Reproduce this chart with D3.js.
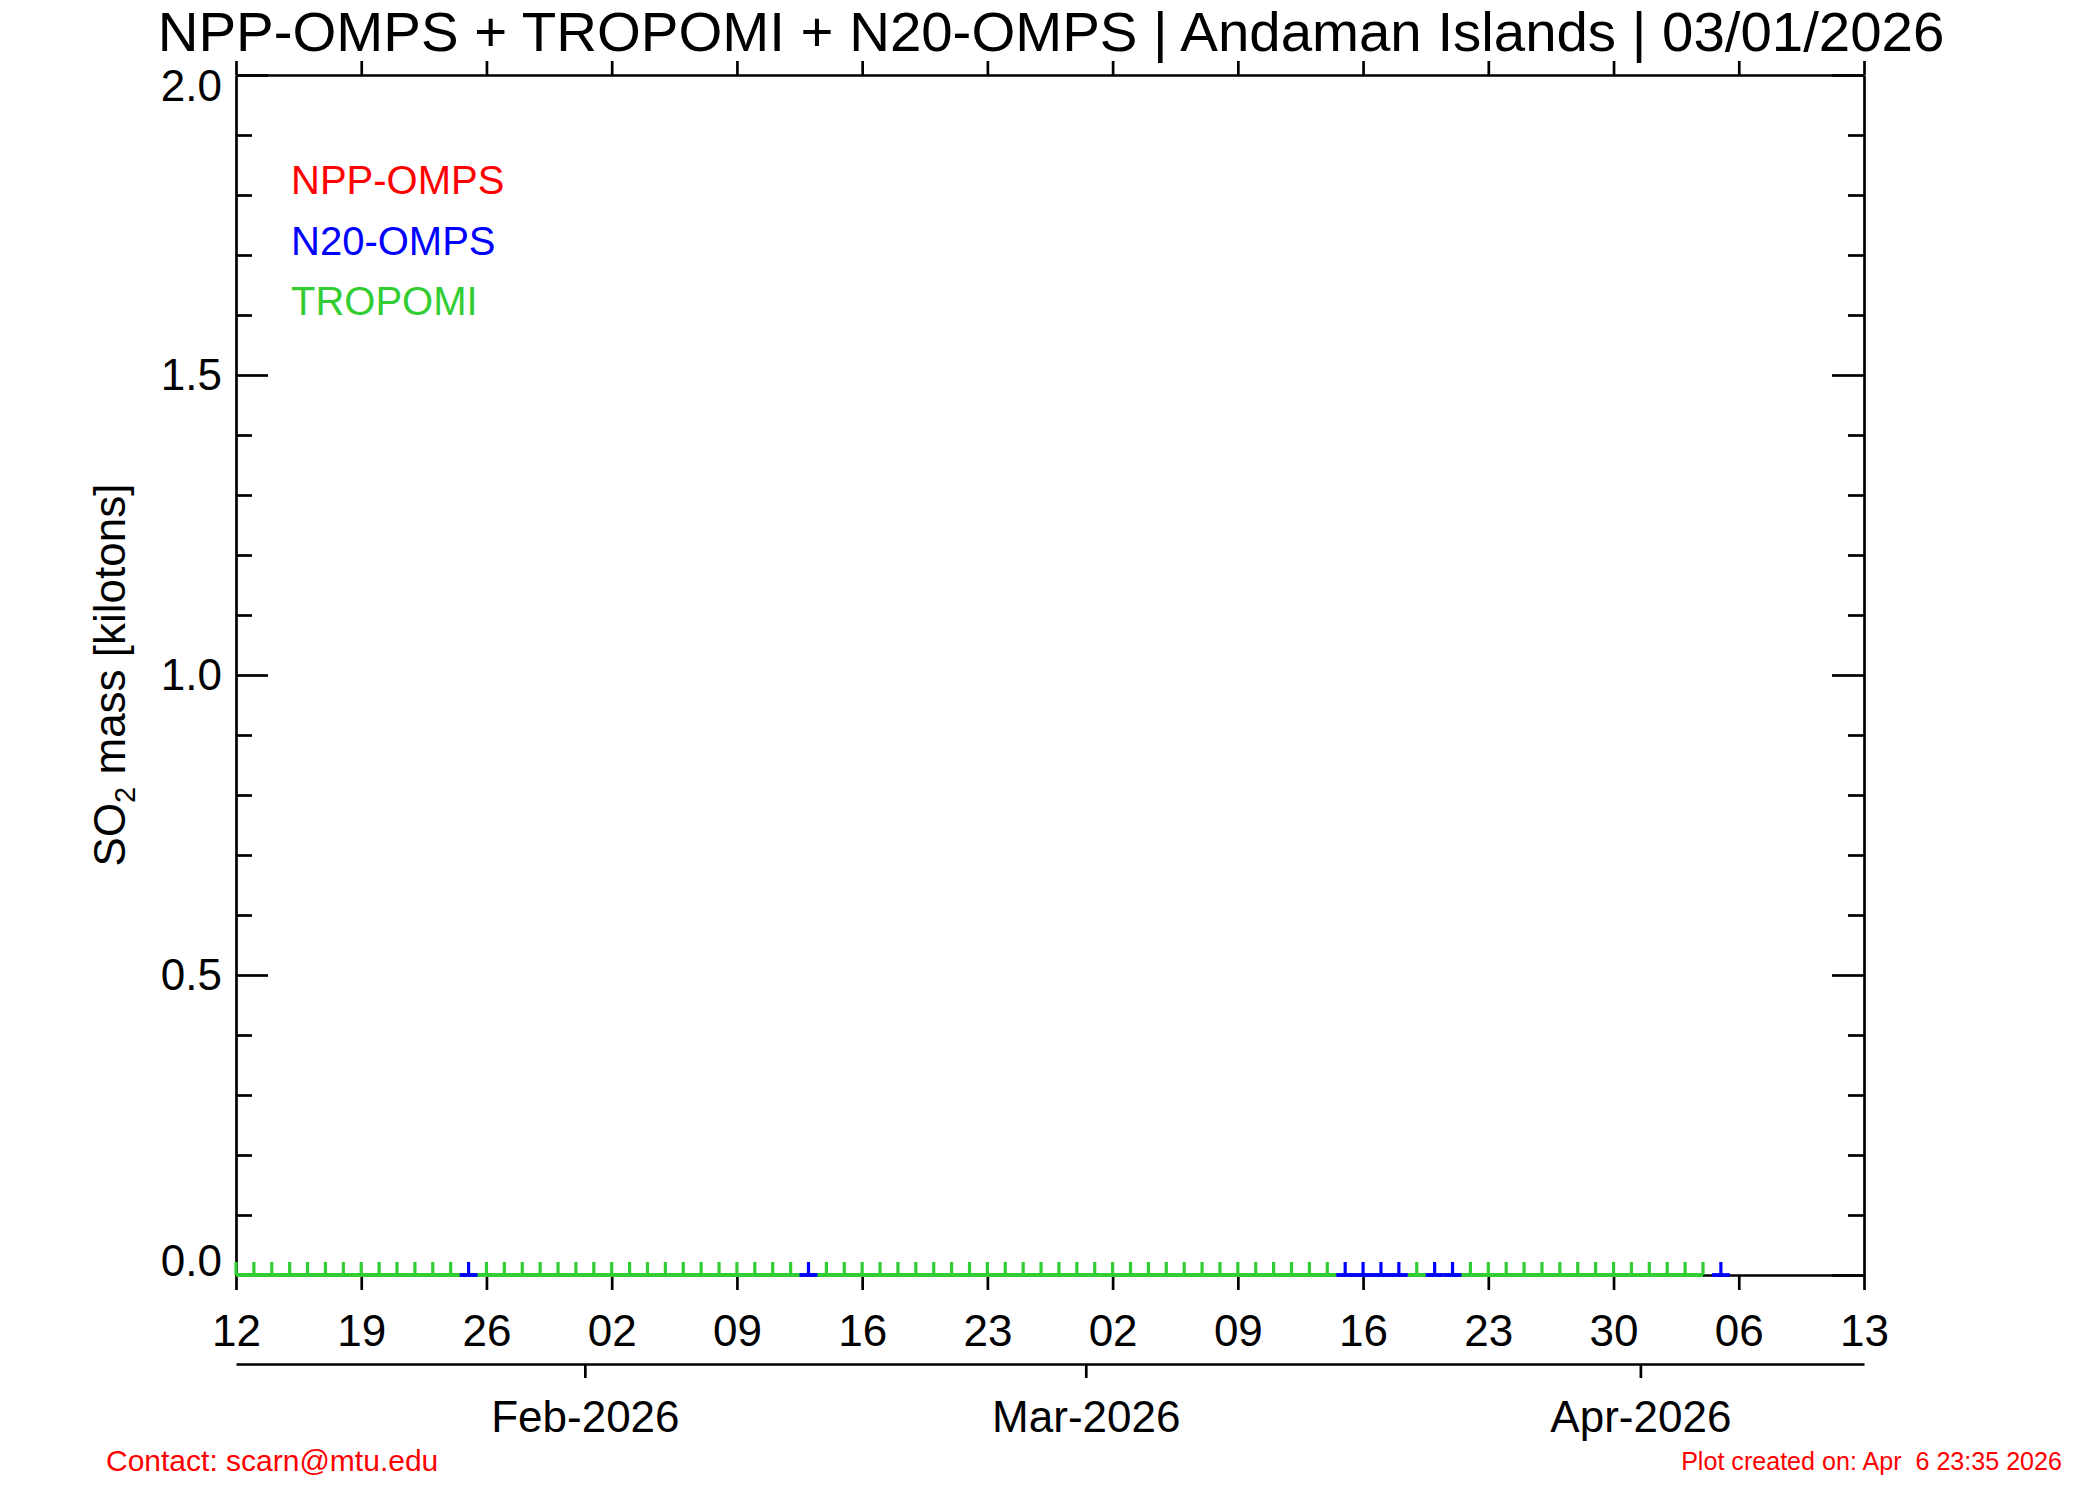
<!DOCTYPE html>
<html>
<head>
<meta charset="utf-8">
<script src="https://cdn.jsdelivr.net/npm/d3@7"></script>
<style>
  body { margin: 0; background: #fff; }
  text { font-family: "Liberation Sans", Arial, Helvetica, sans-serif; }
</style>
</head>
<body>
<svg id="chart" width="2100" height="1500"></svg>
<script>
// SO2 mass time series for the Andaman Islands, one mark per overpass day
var chartTitle = "NPP-OMPS + TROPOMI + N20-OMPS | Andaman Islands | 03/01/2026";
var seriesNames = ["NPP-OMPS", "N20-OMPS", "TROPOMI"];
var seriesColors = ["#ff0000", "#0000ff", "#32cd32"];

// NPP-OMPS has no visible retrievals in this window
var nppDates = [];
var nppMass = [];

var n20Dates = ["2026-01-25", "2026-02-13", "2026-03-15", "2026-03-16", "2026-03-17",
  "2026-03-18", "2026-03-20", "2026-03-21", "2026-04-05"];
var n20Mass = [0, 0, 0, 0, 0, 0, 0, 0, 0];

var tropomiDates = [
  "2026-01-12", "2026-01-13", "2026-01-14", "2026-01-15", "2026-01-16", "2026-01-17",
  "2026-01-18", "2026-01-19", "2026-01-20", "2026-01-21", "2026-01-22", "2026-01-23",
  "2026-01-24", "2026-01-26", "2026-01-27", "2026-01-28", "2026-01-29", "2026-01-30",
  "2026-01-31", "2026-02-01", "2026-02-02", "2026-02-03", "2026-02-04", "2026-02-05",
  "2026-02-06", "2026-02-07", "2026-02-08", "2026-02-09", "2026-02-10", "2026-02-11",
  "2026-02-12", "2026-02-14", "2026-02-15", "2026-02-16", "2026-02-17", "2026-02-18",
  "2026-02-19", "2026-02-20", "2026-02-21", "2026-02-22", "2026-02-23", "2026-02-24",
  "2026-02-25", "2026-02-26", "2026-02-27", "2026-02-28", "2026-03-01", "2026-03-02",
  "2026-03-03", "2026-03-04", "2026-03-05", "2026-03-06", "2026-03-07", "2026-03-08",
  "2026-03-09", "2026-03-10", "2026-03-11", "2026-03-12", "2026-03-13", "2026-03-14",
  "2026-03-19", "2026-03-22", "2026-03-23", "2026-03-24", "2026-03-25", "2026-03-26",
  "2026-03-27", "2026-03-28", "2026-03-29", "2026-03-30", "2026-03-31", "2026-04-01",
  "2026-04-02", "2026-04-03", "2026-04-04"];
var tropomiMass = [
  0, 0, 0, 0, 0, 0, 0, 0, 0, 0, 0, 0, 0, 0, 0, 0, 0, 0, 0, 0, 0, 0, 0, 0, 0,
  0, 0, 0, 0, 0, 0, 0, 0, 0, 0, 0, 0, 0, 0, 0, 0, 0, 0, 0, 0, 0, 0, 0, 0, 0,
  0, 0, 0, 0, 0, 0, 0, 0, 0, 0, 0, 0, 0, 0, 0, 0, 0, 0, 0, 0, 0, 0, 0, 0, 0];

var xDomain = ["2026-01-12T00", "2026-04-13T00"];
var weekTicks = ["2026-01-12T00", "2026-01-19T00", "2026-01-26T00", "2026-02-02T00", "2026-02-09T00",
  "2026-02-16T00", "2026-02-23T00", "2026-03-02T00", "2026-03-09T00", "2026-03-16T00", "2026-03-23T00",
  "2026-03-30T00", "2026-04-06T00", "2026-04-13T00"];
var weekLabels = ["12", "19", "26", "02", "09", "16", "23", "02", "09", "16", "23", "30", "06", "13"];
// month ticks sit at the julian-day boundary (noon of the previous day)
var monthTicks = ["2026-01-31T12", "2026-02-28T12", "2026-03-31T12"];
var monthLabels = ["Feb-2026", "Mar-2026", "Apr-2026"];

var yDomain = [0, 2];
var yMajorTicks = [0, 0.5, 1.0, 1.5, 2.0];
var yMinorTicks = [0.1, 0.2, 0.3, 0.4, 0.6, 0.7, 0.8, 0.9, 1.1, 1.2, 1.3, 1.4, 1.6, 1.7, 1.8, 1.9];

var contactText = "Contact: scarn@mtu.edu";
var createdText = "Plot created on: Apr  6 23:35 2026";

(function() {
  var parseDate = d3.utcParse("%Y-%m-%d");
  var parseHour = d3.utcParse("%Y-%m-%dT%H");
  var margin = {top: 75, right: 236, bottom: 225, left: 236},
      width = 2100 - margin.left - margin.right,
      height = 1500 - margin.top - margin.bottom;
  var axisWidth = 2.7,
      font = '"Liberation Sans", Arial, Helvetica, sans-serif';

  var svg = d3.select("#chart");
  svg.append("rect").attr("width", 2100).attr("height", 1500).attr("fill", "#fff");

  var g = svg.append("g")
      .attr("transform", "translate(" + margin.left + "," + margin.top + ")");

  var xScale = d3.scaleUtc().domain(xDomain.map(parseHour)).range([0, width]);
  var yScale = d3.scaleLinear().domain(yDomain).range([height, 0]);

  function styleAxis(sel, size) {
    sel.selectAll("path.domain").style("stroke", "#000").style("stroke-width", axisWidth);
    sel.selectAll(".tick line").style("stroke", "#000").style("stroke-width", axisWidth);
    sel.selectAll("text").style("font-family", font).style("font-size", size + "px").attr("fill", "#000");
  }

  // bottom axis (weekly, labelled with day of month)
  var weekDates = weekTicks.map(parseHour);
  var bottomAxis = g.append("g")
      .attr("transform", "translate(0," + height + ")")
      .call(d3.axisBottom(xScale).tickValues(weekDates)
        .tickFormat(function(d, i) { return weekLabels[i]; })
        .tickSizeInner(15).tickSizeOuter(0).tickPadding(25));
  styleAxis(bottomAxis, 44);

  // top axis
  var topAxis = g.append("g")
      .call(d3.axisTop(xScale).tickValues(weekDates).tickFormat(function() { return ""; })
        .tickSizeInner(14).tickSizeOuter(0));
  styleAxis(topAxis, 44);

  // left axis, ticks pointing inwards
  var leftAxis = g.append("g")
      .call(d3.axisLeft(yScale).tickValues(yMajorTicks).tickFormat(d3.format(".1f"))
        .tickSizeInner(-32).tickSizeOuter(0).tickPadding(14));
  styleAxis(leftAxis, 44);
  leftAxis.selectAll(".tick text").attr("dy", function(d) {
    if (d === yDomain[1]) return "0.57em";
    if (d === yDomain[0]) return "0.0em";
    return "0.32em";
  });
  var leftMinor = g.append("g")
      .call(d3.axisLeft(yScale).tickValues(yMinorTicks).tickFormat(function() { return ""; })
        .tickSizeInner(-16).tickSizeOuter(0));
  styleAxis(leftMinor, 44);
  leftMinor.select("path.domain").remove();

  // right axis
  var rightAxis = g.append("g")
      .attr("transform", "translate(" + width + ",0)")
      .call(d3.axisRight(yScale).tickValues(yMajorTicks).tickFormat(function() { return ""; })
        .tickSizeInner(-32).tickSizeOuter(0));
  styleAxis(rightAxis, 44);
  var rightMinor = g.append("g")
      .attr("transform", "translate(" + width + ",0)")
      .call(d3.axisRight(yScale).tickValues(yMinorTicks).tickFormat(function() { return ""; })
        .tickSizeInner(-16).tickSizeOuter(0));
  styleAxis(rightMinor, 44);
  rightMinor.select("path.domain").remove();

  // second date axis with month names
  var monthAxis = g.append("g")
      .attr("transform", "translate(0," + (height + 89) + ")")
      .call(d3.axisBottom(xScale).tickValues(monthTicks.map(parseHour))
        .tickFormat(function(d, i) { return monthLabels[i]; })
        .tickSizeInner(14).tickSizeOuter(0).tickPadding(23));
  styleAxis(monthAxis, 44);

  // data
  var series = [
    {name: seriesNames[0], color: seriesColors[0], dates: nppDates, mass: nppMass},
    {name: seriesNames[2], color: seriesColors[2], dates: tropomiDates, mass: tropomiMass},
    {name: seriesNames[1], color: seriesColors[1], dates: n20Dates, mass: n20Mass}
  ];
  var tickHeight = 13, dataWidth = 3.2;

  series.forEach(function(s) {
    var pts = s.dates.map(function(d, i) { return {date: parseDate(d), mass: +s.mass[i]}; });
    var layer = g.append("g").attr("class", "series");
    if (s.name === "TROPOMI") {
      var valueline = d3.line()
          .x(function(d) { return xScale(d.date); })
          .y(function(d) { return yScale(d.mass); });
      layer.append("path")
          .datum(pts)
          .attr("fill", "none")
          .attr("stroke", s.color)
          .attr("stroke-width", dataWidth + 0.6)
          .attr("d", valueline);
    } else {
      // single-day step centred on the observation
      layer.selectAll("line.step")
          .data(pts)
          .enter().append("line")
          .attr("class", "step")
          .attr("x1", function(d) { return xScale(d3.utcHour.offset(d.date, -12)); })
          .attr("x2", function(d) { return xScale(d3.utcHour.offset(d.date, 12)); })
          .attr("y1", function(d) { return yScale(d.mass); })
          .attr("y2", function(d) { return yScale(d.mass); })
          .attr("stroke", s.color)
          .attr("stroke-width", dataWidth + 0.6);
    }
    layer.selectAll("line.mark")
        .data(pts)
        .enter().append("line")
        .attr("class", "mark")
        .attr("x1", function(d) { return xScale(d.date); })
        .attr("x2", function(d) { return xScale(d.date); })
        .attr("y1", function(d) { return yScale(d.mass); })
        .attr("y2", function(d) { return yScale(d.mass) - tickHeight; })
        .attr("stroke", s.color)
        .attr("stroke-width", dataWidth);
  });

  // legend
  var legendOrder = [0, 1, 2];
  g.selectAll("text.legend")
      .data(legendOrder)
      .enter().append("text")
      .attr("class", "legend")
      .attr("x", 55)
      .attr("y", function(d, i) { return 119 + i * 60.5; })
      .attr("fill", function(d) { return seriesColors[d]; })
      .style("font-size", "40px")
      .text(function(d) { return seriesNames[d]; });

  // title
  svg.append("text")
      .attr("x", 1051)
      .attr("y", 51)
      .attr("text-anchor", "middle")
      .attr("fill", "#000")
      .style("font-size", "56.4px")
      .text(chartTitle);

  // y axis title
  var yTitle = svg.append("text")
      .attr("transform", "translate(125," + (margin.top + height / 2) + ") rotate(-90)")
      .attr("text-anchor", "middle")
      .attr("fill", "#000")
      .style("font-size", "44px");
  yTitle.append("tspan").text("SO");
  yTitle.append("tspan").attr("dy", 10).style("font-size", "29px").text("2");
  yTitle.append("tspan").attr("dy", -10).text(" mass [kilotons]");

  // footer
  svg.append("text")
      .attr("x", 106)
      .attr("y", 1471)
      .attr("fill", "#ff0000")
      .style("font-size", "30px")
      .text(contactText);
  svg.append("text")
      .attr("x", 2062)
      .attr("y", 1470)
      .attr("text-anchor", "end")
      .attr("fill", "#ff0000")
      .style("font-size", "25.1px")
      .style("white-space", "pre")
      .text(createdText);
})();
</script>
</body>
</html>
